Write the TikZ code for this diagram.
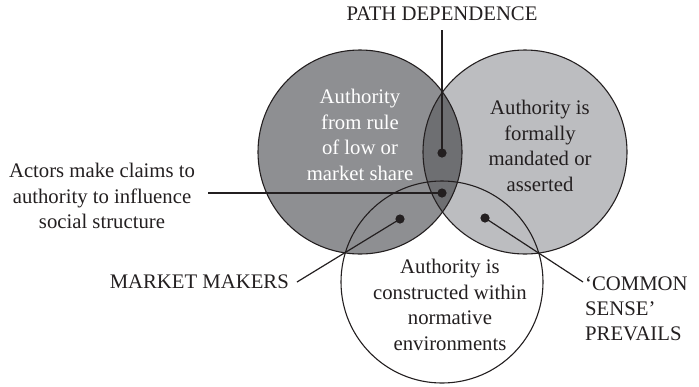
\documentclass[tikz,border=0pt]{standalone}
\usepackage{fontspec}
\setmainfont{Liberation Serif}
\definecolor{gleft}{HTML}{8E8F92}
\definecolor{gright}{HTML}{BCBDC0}
\definecolor{gboth}{HTML}{6E6F72}
\definecolor{ink}{HTML}{231F20}
\tikzset{
  lbl/.style={font=\fontsize{20.8}{25.5}\selectfont, text=ink, align=center, inner sep=0pt},
  inlbl/.style={lbl},
  ring/.style={draw=ink, line width=1.1pt},
  conn/.style={draw=ink, line width=1.5pt},
  dotmark/.style={fill=ink},
}
\begin{document}
\begin{tikzpicture}[x=1bp,y=-1bp]
\useasboundingbox (0,0) rectangle (699,386);
% circles
\coordinate (cl) at (360,152);
\coordinate (cr) at (525,152);
\coordinate (cb) at (442,282);
\fill[white] (cb) circle[radius=101];
\fill[gleft] (cl) circle[radius=102];
\fill[gright] (cr) circle[radius=102];
\begin{scope}
  \clip (cl) circle[radius=102];
  \fill[gboth] (cr) circle[radius=102];
\end{scope}
\draw[ring] (cb) circle[radius=101];
\draw[ring] (cl) circle[radius=102];
\draw[ring] (cr) circle[radius=102];
% inner texts
\node[inlbl, text=white] (tl) at (360,135) {Authority\\from rule\\of low or\\market share};
\node[inlbl] (tr) at (540,146) {Authority is\\formally\\mandated or\\asserted};
\node[inlbl] (tb) at (450,305) {Authority is\\constructed within\\normative\\environments};
% dots
\coordinate (d1) at (442,153);
\coordinate (d2) at (442,193);
\coordinate (d3) at (400,219);
\coordinate (d4) at (485,218);
% outer labels
\node[lbl] (pd) at (442,14) {PATH DEPENDENCE};
\node[lbl] (act) at (102,196) {Actors make claims to\\authority to influence\\social structure};
\node[lbl, anchor=east] (mm) at (289,282) {MARKET MAKERS};
\node[lbl, anchor=north west, align=left] (cs) at (585,276) {‘COMMON\\SENSE’\\PREVAILS};
% connectors
\coordinate (p1) at (442,30);
\coordinate (p2) at (208,193);
\coordinate (p3) at (297,282);
\coordinate (p4) at (583,282);
\draw[conn] (p1) -- (d1);
\draw[conn] (p2) -- (d2);
\draw[ring, line width=1.2pt] (p3) -- (d3);
\draw[ring, line width=1.2pt] (p4) -- (d4);
\foreach \d in {d1,d2,d3,d4} \fill[dotmark] (\d) circle[radius=4.6];
\end{tikzpicture}
\end{document}
